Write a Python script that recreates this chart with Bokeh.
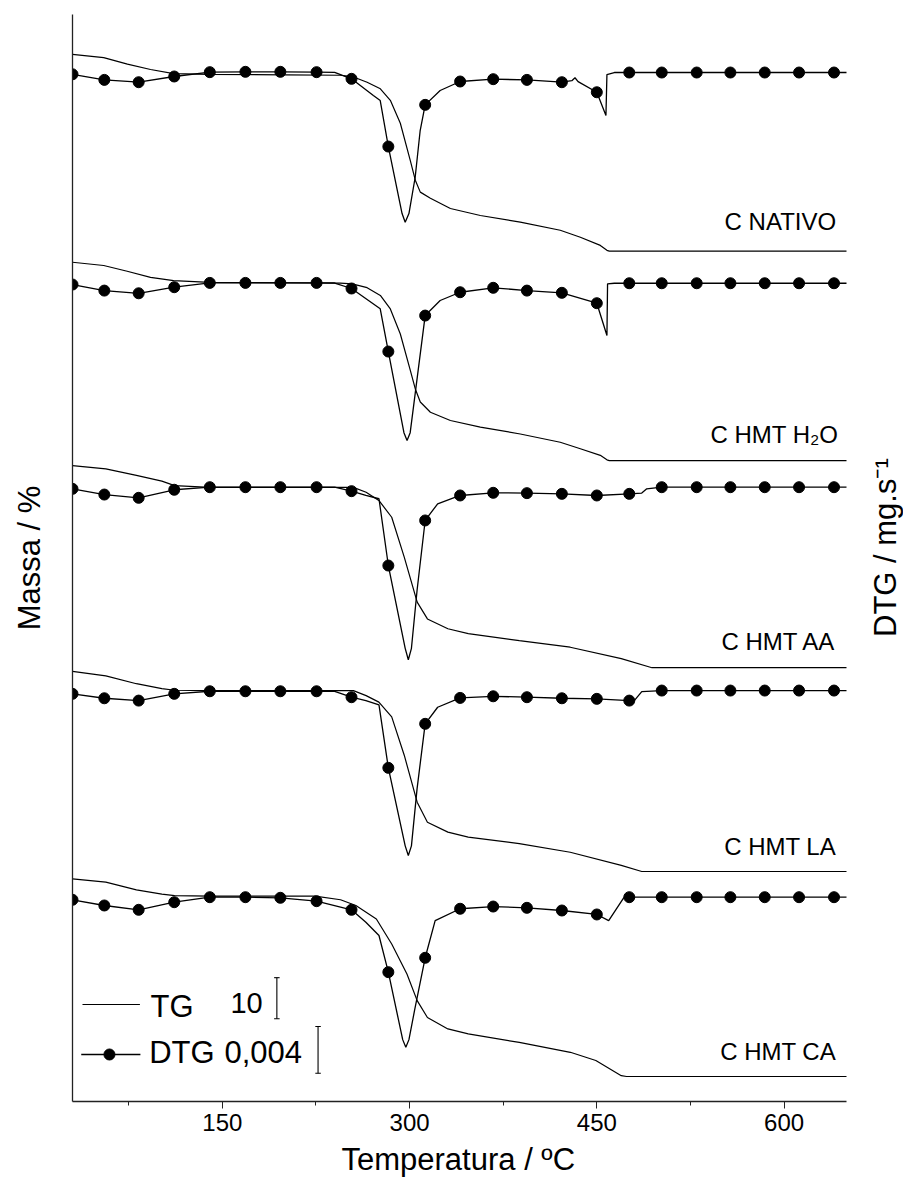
import math
from bokeh.plotting import figure
from bokeh.models import Range1d, FixedTicker, Label, Title
from bokeh.embed import file_html
from bokeh.resources import INLINE

FONT = "Liberation Sans"

# ---------------- data ----------------
SAMPLES = ["C NATIVO", "C HMT H\u2082O", "C HMT AA", "C HMT LA", "C HMT CA"]

# TG curves: (temperature degC, mass %)
TG_NATIVO = [(30, 100), (55, 99.2), (74, 97.6), (92.5, 96.3), (111, 95.3), (140, 95.1), (200, 95.0),
             (244.6, 94.9), (254, 94.6), (266, 93.2), (276.6, 91.6), (284.6, 88.8), (292.6, 83.2),
             (300.6, 74.1), (304.6, 69.3), (308.6, 66.4), (316.7, 64.9), (332.7, 62.4), (356.7, 60.7),
             (388.7, 59.1), (420.7, 57.1), (436.8, 55.4), (452.8, 53.4), (458.1, 52.2), (460, 52.0), (650, 52.0)]
TG_H2O = [(30, 100), (55, 99.2), (73.8, 97.8), (92.5, 96.3), (111, 95.5), (140, 95.1), (244.6, 94.9),
          (254, 94.7), (266, 93.8), (276.6, 91.9), (284.6, 88.6), (292.6, 82.5), (300.6, 73.6),
          (304.6, 69.1), (308.6, 65.9), (316.7, 63.4), (332.7, 61.4), (356.7, 59.8), (388.7, 58.1),
          (420.7, 56.1), (436.8, 54.5), (452.8, 52.9), (458.1, 51.8), (460, 51.6), (650, 51.6)]
TG_AA = [(30, 100), (56.7, 99.2), (81.2, 97.6), (101.6, 96.2), (111.8, 95.1), (140, 94.7), (255, 94.7),
         (265.2, 93.5), (275.4, 91.5), (285.7, 87.4), (295.8, 77.6), (306.1, 66.7), (314.3, 62.6),
         (330.7, 60.2), (347, 59.0), (387.9, 57.3), (428.7, 55.7), (469.6, 52.9), (494.2, 50.7), (650, 50.7)]
TG_LA = [(30, 100), (56.7, 98.9), (81.2, 97.0), (101.6, 95.8), (111.8, 95.4), (140, 95.3), (255, 95.3),
         (265.2, 94.1), (275.4, 92.5), (285.7, 88.9), (295.8, 79.5), (306.1, 68.1), (314.3, 63.2),
         (330.7, 60.8), (347, 59.6), (387.9, 58.0), (428.7, 55.9), (469.6, 52.7), (486, 51.2), (650, 51.2)]
TG_CA = [(30, 100), (56.7, 99.2), (81.2, 97.3), (101.6, 96.3), (111.8, 95.9), (140, 95.8), (224.3, 95.8),
         (244.7, 94.9), (257, 93.5), (273.4, 90.2), (285.7, 84.1), (297.9, 76.8), (306.1, 70.3),
         (314.3, 66.2), (330.7, 63.4), (347, 62.2), (387.9, 60.1), (428.8, 57.7), (449.2, 55.7),
         (469.6, 52.0), (473.8, 51.8), (650, 51.8)]

# DTG curves: (temperature degC, mg/s)
DTG_NATIVO = [(30, -0.00015), (55.5, -0.00063), (83, -0.00083), (111.5, -0.00034), (140, 0.00003),
              (168.5, 0.00006), (196.5, 0.00006), (225.5, 0.00003), (240, 0.00002), (253.5, -0.00054),
              (271, -0.00197), (276.5, -0.0024), (283, -0.00634), (294, -0.01208), (296.5, -0.01282),
              (299.5, -0.01208), (304.5, -0.00897), (308.5, -0.00497), (312.5, -0.00277), (324.5, -0.00154),
              (340.5, -0.00077), (367, -0.00057), (394, -0.00063), (422, -0.00083), (430, -0.0007),
              (432.5, -0.00045), (435, -0.00078), (450, -0.00169), (457.3, -0.00368), (458.1, -0.00017),
              (464, 0), (476, 0), (502, 0), (530, 0), (557, 0), (584.5, 0), (612, 0), (640, 0), (650, 0)]
DTG_H2O = [(30, -0.00011), (55.5, -0.00063), (83, -0.00086), (111.5, -0.00034), (140, 0.00003),
           (168.5, 0.00003), (196.5, 0.00003), (225.5, 0.00003), (240, 0.00002), (253.5, -0.00045),
           (276.5, -0.00219), (283, -0.00585), (295.5, -0.0128), (298, -0.01347), (300.5, -0.0128),
           (304.5, -0.00945), (312.5, -0.00277), (324.5, -0.00148), (340.5, -0.00077), (367, -0.00039),
           (394, -0.00063), (422, -0.00082), (450, -0.00171), (458.1, -0.00448), (458.6, -0.00005),
           (464, 0), (476, 0), (502, 0), (530, 0), (557, 0), (584.5, 0), (612, 0), (640, 0), (650, 0)]
DTG_AA = [(30, -0.00014), (55.5, -0.00063), (83, -0.00091), (111.5, -0.00022), (140, 0), (168.5, 0),
          (196.5, 0), (225.5, 0), (240, 0), (253.5, -0.00034), (265, -0.00071), (275.5, -0.00099),
          (283, -0.00671), (296.5, -0.0138), (299, -0.01478), (301.5, -0.0138), (306, -0.00885),
          (312.5, -0.00285), (322.5, -0.00142), (340.5, -0.00071), (367, -0.00048), (394, -0.00051),
          (422, -0.00057), (450, -0.00071), (476, -0.00057), (486, -0.0005), (490, -0.00014),
          (502, 0), (530, 0), (557, 0), (584.5, 0), (612, 0), (640, 0), (650, 0)]
DTG_LA = [(30, -0.00028), (55.5, -0.00066), (83, -0.00086), (111.5, -0.00028), (140, -0.00006),
          (168.5, -0.00006), (196.5, -0.00006), (225.5, -0.00006), (240, -0.00006), (253.5, -0.00057),
          (265, -0.00086), (275.5, -0.00122), (283, -0.00662), (296.5, -0.0133), (299, -0.01413),
          (301.5, -0.0133), (306, -0.00842), (312.5, -0.00285), (322.5, -0.00143), (340.5, -0.00063),
          (367, -0.00049), (394, -0.00057), (422, -0.00066), (450, -0.00071), (476, -0.00086),
          (480, -0.00086), (486, -0.00009), (502, 0), (530, 0), (557, 0), (584.5, 0), (612, 0),
          (640, 0), (650, 0)]
DTG_CA = [(30, -0.00022), (55.5, -0.00071), (83, -0.00108), (111.5, -0.00043), (140, 0), (168.5, 0),
          (196.5, -0.00005), (225.5, -0.00034), (253.5, -0.00108), (265, -0.00214), (275.5, -0.00328),
          (283, -0.00642), (294.5, -0.0122), (297, -0.01285), (299.5, -0.0122), (304, -0.0097),
          (312.5, -0.00519), (320.5, -0.002), (340.5, -0.00099), (367, -0.0008), (394, -0.00091),
          (422, -0.00114), (450, -0.00148), (459.5, -0.002), (471.5, -0.00005), (476, 0), (502, 0),
          (530, 0), (557, 0), (584.5, 0), (612, 0), (640, 0), (650, 0)]

# temperatures at which DTG symbols are drawn
MARK_T = [30, 55.5, 83, 111.5, 140, 168.5, 196.5, 225.5, 253.5, 283, 312.5, 340.5, 367, 394, 422,
          450, 476, 502, 530, 557, 584.5, 612, 640]

TG_ALL = [TG_NATIVO, TG_H2O, TG_AA, TG_LA, TG_CA]
DTG_ALL = [DTG_NATIVO, DTG_H2O, DTG_AA, DTG_LA, DTG_CA]

# vertical stacking offsets (layout)
TG_OFFSET = [155.4, 104.7, 55.1, 4.9, -45.7]
DTG_OFFSET = [0.08814, 0.07009, 0.05262, 0.0352, 0.0175]
LABEL_Y = [214.7, 162.8, 112.3, 62.3, 12.1]

X_TICKS = [150, 300, 450, 600]
X_MINOR = [75, 225, 375, 525]
X_START, X_END = 30, 650

# ---------------- figure ----------------
# frame runs to the right edge of the page; the x axis line is bounded to 30..650
p = figure(width=903, height=1193, output_backend="svg", toolbar_location=None,
           x_range=Range1d(X_START, 695.66), y_range=Range1d(0, 265.12),
           min_border_left=72, min_border_right=0, min_border_top=14, min_border_bottom=92)
p.extra_y_ranges = {"dtg": Range1d(0, 0.09311)}
p.outline_line_color = None
p.grid.grid_line_color = None
p.background_fill_color = "white"
p.border_fill_color = "white"

INK = "#000000"
for k in range(5):
    tg = TG_ALL[k]
    p.line([t for t, m in tg], [m + TG_OFFSET[k] for t, m in tg], line_color=INK, line_width=1.2)
    dtg = DTG_ALL[k]
    p.line([t for t, d in dtg], [d + DTG_OFFSET[k] for t, d in dtg], line_color=INK, line_width=1.3,
           y_range_name="dtg")
    mk = [(t, d) for t, d in dtg if t in MARK_T]
    p.scatter([t for t, d in mk], [d + DTG_OFFSET[k] for t, d in mk], size=11, marker="circle",
              fill_color=INK, line_color=INK, y_range_name="dtg")
    p.add_layout(Label(x=641.7 if k != 1 else 643.5, y=LABEL_Y[k], text=SAMPLES[k], text_align="right",
                       text_baseline="alphabetic", text_font=FONT, text_font_size="24px", text_color=INK))

# legend with scale bars
p.line([38, 84], [23.66, 23.66], line_color=INK, line_width=1.2)
p.add_layout(Label(x=92.5, y=23.2, text="TG", text_font=FONT, text_font_size="31px",
                   text_baseline="alphabetic", text_color=INK))
p.add_layout(Label(x=156.5, y=24.1, text="10", text_font=FONT, text_font_size="29px",
                   text_baseline="alphabetic", text_color=INK))
p.segment(x0=[193.7, 191.5, 191.5], y0=[20.2, 20.2, 30.2], x1=[193.7, 195.9, 195.9], y1=[30.2, 20.2, 30.2],
          line_color=INK, line_width=1.1)

p.line([37, 84.4], [0.004026, 0.004026], line_color=INK, line_width=1.3, y_range_name="dtg")
p.scatter([59.6], [0.004026], size=11, marker="circle", fill_color=INK, line_color=INK, y_range_name="dtg")
p.add_layout(Label(x=91.4, y=0.0042, y_range_name="dtg", text="DTG", text_font=FONT, text_font_size="31px",
                   text_baseline="alphabetic", text_color=INK))
p.add_layout(Label(x=151.7, y=0.0042, y_range_name="dtg", text="0,004", text_font=FONT,
                   text_font_size="31px", text_baseline="alphabetic", text_color=INK))
p.segment(x0=[226.7, 224.5, 224.5], y0=[0.00242, 0.00242, 0.00642], x1=[226.7, 228.9, 228.9],
          y1=[0.00642, 0.00242, 0.00642], line_color=INK, line_width=1.1, y_range_name="dtg")

# axes
xa = p.xaxis[0]
xa.bounds = (X_START, X_END)
xa.ticker = FixedTicker(ticks=X_TICKS, minor_ticks=X_MINOR)
xa.major_label_text_font = FONT
xa.major_label_text_font_size = "24px"
xa.major_label_text_color = INK
xa.major_label_standoff = 5
xa.major_tick_in = 0
xa.major_tick_out = 7
xa.minor_tick_in = 0
xa.minor_tick_out = 4
xa.axis_line_color = "#222222"
xa.axis_line_width = 1.3
xa.major_tick_line_color = "#222222"
xa.minor_tick_line_color = "#222222"

# x axis title, centred under the bounded axis (30..650)
p.add_layout(Title(text="Temperatura / \u00baC", align="left", offset=269, standoff=13,
                   text_font=FONT, text_font_size="31px", text_font_style="normal", text_color=INK), "below")

ya = p.yaxis[0]
ya.ticker = FixedTicker(ticks=[], minor_ticks=[])
ya.major_tick_line_color = None
ya.minor_tick_line_color = None
ya.major_label_text_font_size = "0px"
ya.axis_label = "Massa / %"
ya.axis_label_text_font = FONT
ya.axis_label_text_font_size = "31px"
ya.axis_label_text_font_style = "normal"
ya.axis_label_text_color = INK
ya.axis_label_standoff = 26
ya.axis_line_color = "#222222"
ya.axis_line_width = 1.3

# right-hand title (DTG scale), reading bottom to top
p.add_layout(Label(x=681.2, y=135.1, text="DTG / mg.s\u207b\u00b9", angle=math.pi / 2, text_align="center",
                   text_baseline="middle", text_font=FONT, text_font_size="31px", text_color=INK))

open("out.html", "w").write(file_html(p, INLINE))
